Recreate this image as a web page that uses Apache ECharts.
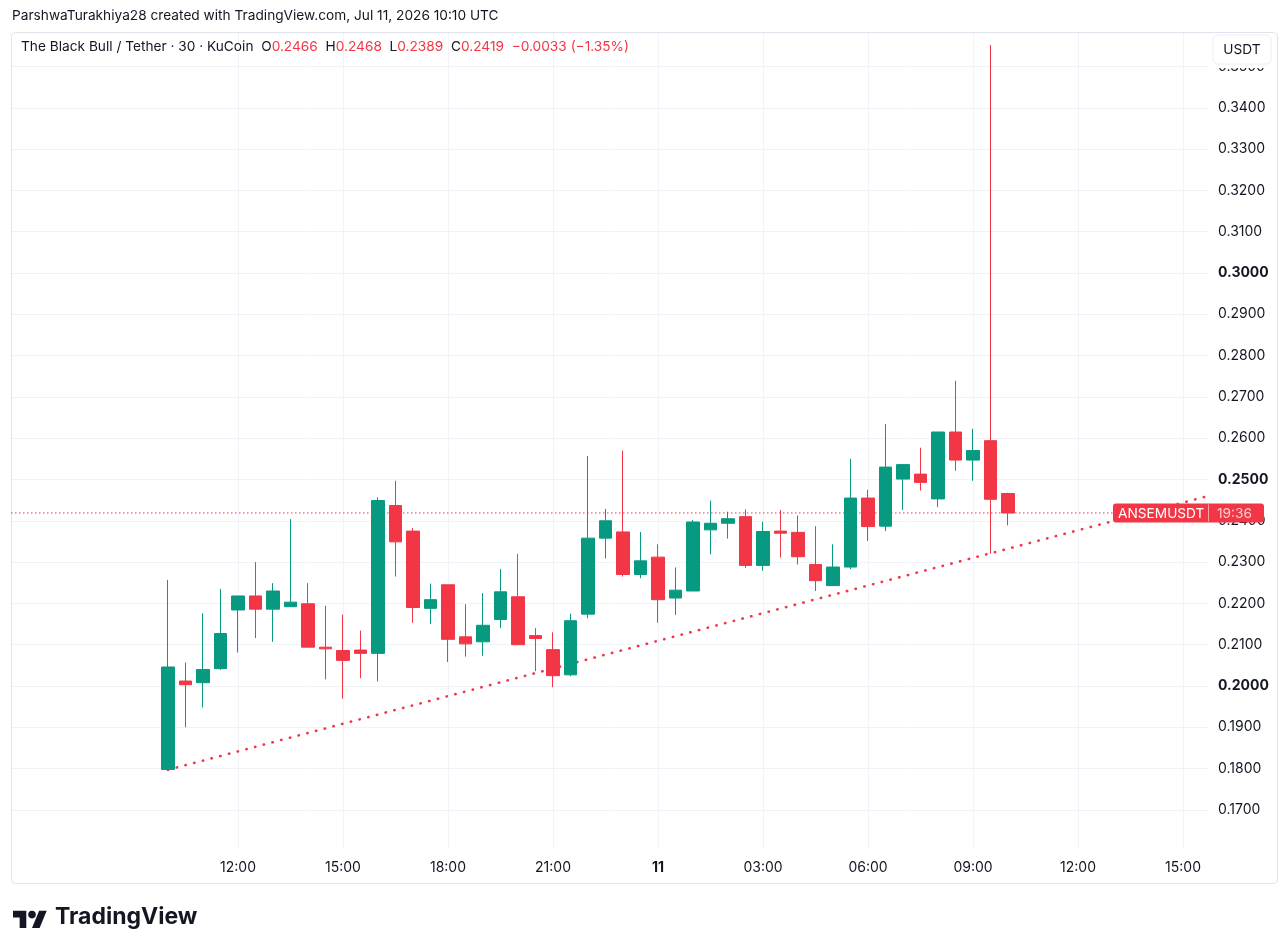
<!DOCTYPE html>
<html>
<head>
<meta charset="utf-8">
<script src="https://cdn.jsdelivr.net/npm/echarts@6/dist/echarts.min.js"></script>
<style>
html,body{margin:0;padding:0;background:#ffffff;}
#c{width:1288px;height:952px;}
</style>
</head>
<body>
<div id="c"></div>
<script>
// ---------- data ----------
const startHour = 10;      // first candle: Jul 10, 10:00 (hours from Jul 10 00:00)
const stepHours = 0.5;     // 30-minute candles
const opens  = [0.1798,0.2012,0.2008,0.2042,0.2184,0.2218,0.2186,0.2192,0.2199,0.2094,0.2086,0.2087,0.2079,0.2437,0.2375,0.2188,0.2245,0.2119,0.2107,0.2161,0.2216,0.2122,0.2088,0.2027,0.2174,0.2358,0.2373,0.2270,0.2312,0.2213,0.2230,0.2378,0.2394,0.2410,0.2292,0.2375,0.2372,0.2294,0.2243,0.2288,0.2455,0.2387,0.2501,0.2513,0.2453,0.2615,0.2547,0.2594,0.2466];
const closes = [0.2046,0.2003,0.2040,0.2127,0.2218,0.2186,0.2230,0.2203,0.2094,0.2090,0.2062,0.2079,0.2449,0.2349,0.2190,0.2209,0.2113,0.2102,0.2147,0.2228,0.2100,0.2115,0.2025,0.2158,0.2358,0.2400,0.2270,0.2303,0.2209,0.2232,0.2397,0.2394,0.2405,0.2292,0.2374,0.2370,0.2313,0.2255,0.2288,0.2455,0.2386,0.2530,0.2536,0.2493,0.2615,0.2547,0.2570,0.2452,0.2419];
const lows   = [0.1797,0.1900,0.1948,0.2039,0.2081,0.2116,0.2107,0.2192,0.2094,0.2016,0.1969,0.2019,0.2011,0.2265,0.2153,0.2150,0.2058,0.2071,0.2073,0.2140,0.2100,0.2036,0.1997,0.2024,0.2164,0.2309,0.2265,0.2261,0.2153,0.2172,0.2230,0.2319,0.2357,0.2286,0.2279,0.2311,0.2294,0.2230,0.2243,0.2283,0.2351,0.2375,0.2426,0.2473,0.2433,0.2521,0.2497,0.2320,0.2389];
const highs  = [0.2257,0.2057,0.2176,0.2235,0.2218,0.2300,0.2249,0.2404,0.2249,0.2194,0.2173,0.2134,0.2457,0.2497,0.2382,0.2248,0.2245,0.2198,0.2225,0.2283,0.2320,0.2140,0.2130,0.2175,0.2557,0.2429,0.2570,0.2373,0.2343,0.2287,0.2402,0.2449,0.2422,0.2428,0.2398,0.2426,0.2413,0.2387,0.2343,0.2550,0.2475,0.2634,0.2536,0.2577,0.2615,0.2739,0.2623,0.3552,0.2468];

const xTickValues = [12,15,18,21,24,27,30,33,36,39];
const xTickLabels = ['12:00','15:00','18:00','21:00','11','03:00','06:00','09:00','12:00','15:00'];
const yTickValues = [0.17,0.18,0.19,0.20,0.21,0.22,0.23,0.24,0.25,0.26,0.27,0.28,0.29,0.30,0.31,0.32,0.33,0.34,0.35];
const boldPrices  = [0.20,0.25,0.30];

const trendStart = [10, 0.1797];
const trendEnd   = [39.63, 0.2458];

const headerText = 'ParshwaTurakhiya28 created with TradingView.com, Jul 11, 2026 10:10 UTC';
const instrument = 'The Black Bull / Tether · 30 · KuCoin';
const symbolName = 'ANSEMUSDT';
const countdown  = '19:36';
const quoteUnit  = 'USDT';

// ---------- chart ----------
const FONT = 'Inter, "Noto Sans", sans-serif';
const UP = '#089981', DOWN = '#f23645', TXT = '#131722', GRID = '#f0f3fa';
const AXFS = 14, HDFS = 13.7;
const X_MIN = 5.5143, X_MAX = 39.714;
const TOPZ = 100;

const candleData = opens.map((o, i) => [startHour + i * stepHours, o, closes[i], lows[i], highs[i]]);
const n = opens.length;
const lastO = opens[n-1], lastH = highs[n-1], lastL = lows[n-1], lastC = closes[n-1];
const chg = lastC - closes[n-2];
const pct = chg / closes[n-2] * 100;
const fmtSigned = (v, d) => (v < 0 ? '\u2212' : '+') + Math.abs(v).toFixed(d);

const chart = echarts.init(document.getElementById('c'), null, {renderer: 'canvas'});

const option = {
  animation: false,
  backgroundColor: '#ffffff',
  textStyle: {fontFamily: FONT},
  grid: {left: 11, right: 80, top: 32, bottom: 103, containLabel: false},
  xAxis: {
    type: 'value', min: X_MIN, max: X_MAX, splitNumber: 11,
    axisLine: {show: false},
    axisTick: {show: false, customValues: xTickValues},
    axisLabel: {
      customValues: xTickValues, margin: 12, color: TXT, fontSize: AXFS, fontFamily: FONT,
      formatter: v => {
        const k = xTickValues.findIndex(t => Math.abs(t - v) < 1e-6);
        if (k < 0) return '';
        return xTickLabels[k] === '11' ? '{b|11}' : xTickLabels[k];
      },
      rich: {b: {fontWeight: 'bold', fontSize: AXFS, color: TXT, fontFamily: FONT}}
    },
    splitLine: {show: true, lineStyle: {color: GRID, width: 1}}
  },
  yAxis: {
    type: 'value', position: 'right', min: 0.16053, max: 0.35835, splitNumber: 20, scale: true,
    axisLine: {show: false},
    axisTick: {show: false, customValues: yTickValues},
    axisLabel: {
      customValues: yTickValues, margin: 10, color: TXT, fontSize: AXFS, fontFamily: FONT,
      formatter: v => {
        const s = v.toFixed(4);
        return boldPrices.some(b => Math.abs(b - v) < 1e-9) ? '{b|' + s + '}' : s;
      },
      rich: {b: {fontWeight: 'bold', fontSize: AXFS, color: TXT, fontFamily: FONT}}
    },
    splitLine: {show: true, lineStyle: {color: GRID, width: 1}}
  },
  series: [
    {
      // last-price line
      type: 'line',
      data: [[X_MIN, lastC], [X_MAX, lastC]],
      symbol: 'none', silent: true, z: 2,
      lineStyle: {color: DOWN, width: 1, type: [1.5, 2.5]}
    },
    {
      // trend line
      type: 'line',
      data: [trendStart, trendEnd],
      symbol: 'none', silent: true, z: 3,
      lineStyle: {color: DOWN, width: 2.6, type: [0.4, 8.6], cap: 'round'}
    },
    {
      type: 'candlestick',
      data: candleData,
      barWidth: 13,
      z: 4,
      itemStyle: {color: UP, color0: DOWN, borderColor: UP, borderColor0: DOWN, borderWidth: 1}
    }
  ]
};
chart.setOption(option);

const tagY = chart.convertToPixel({yAxisIndex: 0}, lastC);

chart.setOption({
  graphic: [
    // outer frame
    {type: 'rect', silent: true, z: 1, shape: {x: 11.5, y: 32.5, width: 1266, height: 851, r: 4},
     style: {fill: 'none', stroke: '#e0e3eb', lineWidth: 1}},
    // header
    {type: 'text', silent: true, left: 12, top: 9,
     style: {text: headerText, fontSize: HDFS, fill: TXT, fontFamily: FONT}},
    // legend
    {type: 'text', silent: true, z: TOPZ, left: 21, top: 40,
     style: {
       text: '{n|' + instrument + '}  {k|O}{v|' + lastO.toFixed(4) + '}  {k|H}{v|' + lastH.toFixed(4) +
             '}  {k|L}{v|' + lastL.toFixed(4) + '}  {k|C}{v|' + lastC.toFixed(4) + '}  {v|' +
             fmtSigned(chg, 4) + ' (' + fmtSigned(pct, 2) + '%)}',
       fontFamily: FONT, fontSize: HDFS, fill: TXT,
       rich: {
         n: {fontSize: HDFS, fill: TXT, fontFamily: FONT},
         k: {fontSize: HDFS, fill: TXT, fontFamily: FONT},
         v: {fontSize: HDFS, fill: DOWN, fontFamily: FONT}
       }
     }},
    // quote unit box (white backing hides most of the top price label)
    {type: 'rect', silent: true, z: TOPZ, shape: {x: 1209, y: 33, width: 66, height: 35}, style: {fill: '#ffffff'}},
    {type: 'rect', silent: true, z: TOPZ + 1, shape: {x: 1213, y: 35, width: 58, height: 29, r: 5},
     style: {fill: '#ffffff', stroke: '#eceef2', lineWidth: 1}},
    {type: 'text', silent: true, z: TOPZ + 2, x: 1242, y: 49.5,
     style: {text: quoteUnit, fontSize: HDFS, fill: TXT, fontFamily: FONT, align: 'center', verticalAlign: 'middle'}},
    // last price tag
    {type: 'rect', silent: true, z: TOPZ, shape: {x: 1113, y: tagY - 9.5, width: 151, height: 19, r: 3}, style: {fill: DOWN}},
    {type: 'line', silent: true, z: TOPZ + 1, shape: {x1: 1208.5, y1: tagY - 8.5, x2: 1208.5, y2: tagY + 8.5},
     style: {stroke: 'rgba(255,255,255,0.55)', lineWidth: 1}},
    {type: 'text', silent: true, z: TOPZ + 2, x: 1118, y: tagY + 0.5,
     style: {text: symbolName, fontSize: HDFS, fill: '#ffffff', fontFamily: FONT, verticalAlign: 'middle'}},
    {type: 'text', silent: true, z: TOPZ + 2, x: 1217, y: tagY + 0.5,
     style: {text: countdown, fontSize: HDFS, fill: 'rgba(255,255,255,0.75)', fontFamily: FONT, verticalAlign: 'middle'}},
    // TradingView logo
    {type: 'group', x: 13, y: 907, scaleX: 0.95, scaleY: 0.95, children: [
      {type: 'polygon', shape: {points: [[0,4],[14,4],[14,22],[7,22],[7,11],[0,11]]}, style: {fill: TXT}},
      {type: 'circle', shape: {cx: 20, cy: 8, r: 4}, style: {fill: TXT}},
      {type: 'polygon', shape: {points: [[27.5,4],[35.5,4],[28,22],[20,22]]}, style: {fill: TXT}}
    ]},
    {type: 'text', left: 55, top: 906,
     style: {text: 'TradingView', fontSize: 23, fontWeight: 'bold', fill: TXT, fontFamily: FONT}}
  ]
});
</script>
</body>
</html>
